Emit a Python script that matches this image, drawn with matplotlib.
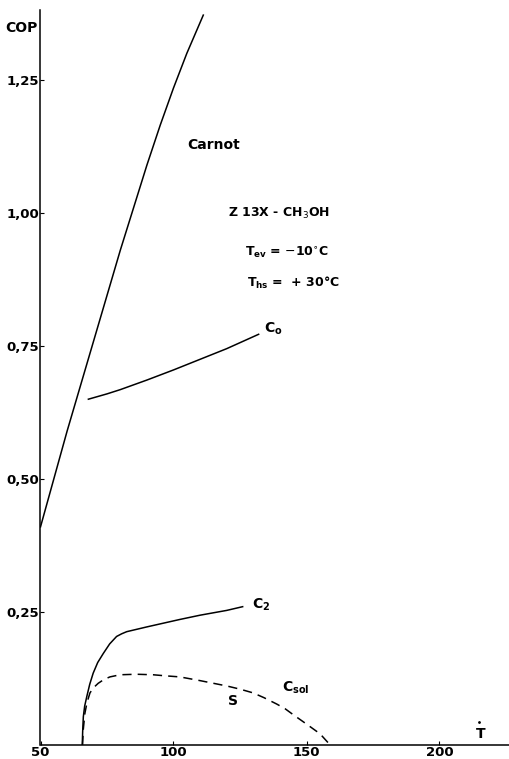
import matplotlib
matplotlib.use("Agg")
import matplotlib.pyplot as plt

# Data
carnot_T = [50, 55, 60, 65, 70, 75, 80, 85, 90, 95, 100, 105, 111.2]
carnot_cop = [0.41, 0.50, 0.59, 0.675, 0.76, 0.845, 0.93, 1.01, 1.09, 1.165, 1.235, 1.30, 1.372]

c0_T = [68, 75, 80, 90, 100, 110, 120, 132]
c0_cop = [0.650, 0.660, 0.668, 0.686, 0.705, 0.725, 0.745, 0.772]

c2_T = [65.7, 65.85, 66.1, 66.6, 67.4, 68.5, 69.8, 71.5, 73.6, 76.0, 78.6, 80.5, 82.4, 90, 102.4, 110, 120, 126]
c2_cop = [0.0, 0.025, 0.053, 0.073, 0.091, 0.114, 0.135, 0.155, 0.172, 0.190, 0.204, 0.209, 0.213, 0.222, 0.236, 0.244, 0.253, 0.260]

s_T = [65.8, 66.1, 66.7, 67.5, 68.6, 70.0, 71.7, 73.8, 76.1, 79.9, 86, 92.4, 97, 102.4, 110, 115, 120, 125, 129.9, 134, 138.8, 142, 145, 150.1, 155.1, 158.9]
s_cop = [0.0, 0.03, 0.06, 0.080, 0.098, 0.108, 0.116, 0.123, 0.128, 0.132, 0.133, 0.132, 0.130, 0.128, 0.121, 0.116, 0.111, 0.105, 0.098, 0.089, 0.077, 0.068, 0.057, 0.039, 0.021, 0.0]

xticks = [50, 100, 150, 200]
yticks = [0.25, 0.50, 0.75, 1.00, 1.25]
ytick_labels = ["0,25", "0,50", "0,75", "1,00", "1,25"]

fig = plt.figure(figsize=(5.10, 7.59), dpi=100)
ax = fig.add_axes([40.5 / 510, 14 / 759, 1 - 40.5 / 510, (745 - 10) / 759])
ax.set_xlim(50, 50 + 469.5 / 2.66)
ax.set_ylim(0, (745 - 10) / 532)

lw = 1.1
ax.plot(carnot_T, carnot_cop, color="black", lw=lw)
ax.plot(c0_T, c0_cop, color="black", lw=lw)
ax.plot(c2_T, c2_cop, color="black", lw=lw)
ax.plot(s_T, s_cop, color="black", lw=lw, dashes=(6, 4))

for side in ["top", "right"]:
    ax.spines[side].set_visible(False)
for side in ["left", "bottom"]:
    ax.spines[side].set_linewidth(1.1)

ax.set_xticks(xticks)
ax.set_xticklabels([str(t) for t in xticks])
ax.set_yticks(yticks)
ax.set_yticklabels(ytick_labels)
ax.tick_params(axis="both", direction="in", length=3, width=0.8, labelsize=9.5, pad=1)
for lab in ax.get_xticklabels() + ax.get_yticklabels():
    lab.set_fontweight("bold")

fkw = dict(fontweight="bold", color="black", family="DejaVu Sans")
fig.text(5 / 510, 1 - 28 / 759, "COP", fontsize=10, va="center", ha="left", **fkw)
ax.text(105, 1.128, "Carnot", fontsize=10, ha="left", va="center", **fkw)
ax.text(120.5, 1.0, r"Z 13X - CH$_3$OH", fontsize=9, ha="left", va="center", **fkw)
ax.text(126.9, 0.925, r"T$_{\mathbf{ev}}$ = $-$10$^{\circ}$C", fontsize=9, ha="left", va="center", **fkw)
ax.text(127.6, 0.868, r"T$_{\mathbf{hs}}$ =  + 30°C", fontsize=9, ha="left", va="center", **fkw)
ax.text(134, 0.782, r"C$_{\mathbf{o}}$", fontsize=10, ha="left", va="center", **fkw)
ax.text(129.5, 0.264, r"C$_{\mathbf{2}}$", fontsize=10, ha="left", va="center", **fkw)
ax.text(120.5, 0.083, "S", fontsize=10, ha="left", va="center", **fkw)
ax.text(140.7, 0.108, r"C$_{\mathbf{sol}}$", fontsize=10, ha="left", va="center", **fkw)
ax.text(213.5, 0.020, "T", fontsize=10, ha="left", va="center", **fkw)
ax.plot([214.8], [0.043], marker=".", color="black", ms=2)

fig.savefig("out.png", dpi=100)
